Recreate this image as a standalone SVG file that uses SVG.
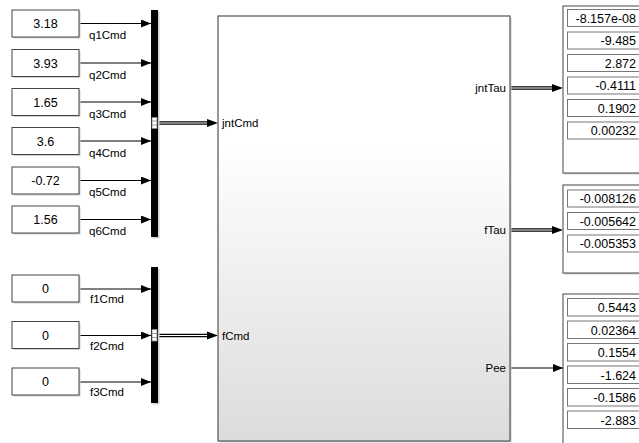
<svg xmlns="http://www.w3.org/2000/svg" width="639" height="443" viewBox="0 0 639 443">
<defs>
<linearGradient id="g" x1="0" y1="0" x2="0" y2="1">
<stop offset="0" stop-color="#ffffff"/>
<stop offset="0.3" stop-color="#ffffff"/>
<stop offset="1" stop-color="#dcdcdc"/>
</linearGradient>
<marker id="ah" markerWidth="10" markerHeight="8" refX="10" refY="4" orient="auto" markerUnits="userSpaceOnUse">
<path d="M0,0 L10,4 L0,8 Z" fill="#000"/>
</marker>
</defs>
<style>
.cb{fill:#fff;stroke:#444;stroke-width:1}
.sh{fill:#cfcfcf}
.val{font-family:"Liberation Sans",Arial,sans-serif;font-size:12.5px;fill:#000}
.lbl{font-family:"Liberation Sans",Arial,sans-serif;font-size:11.5px;fill:#000}
.ln{stroke:#000;stroke-width:1;fill:none}
.bus{stroke:#000;stroke-width:3.6;fill:none}
.busw{stroke:#fff;stroke-width:1.2;fill:none}
.bar{fill:#000}
.disp{fill:#fff;stroke:#444;stroke-width:1}
.cell{fill:#fff;stroke:#777;stroke-width:1}
</style>
<rect width="639" height="443" fill="#fff"/>

<g id="connectors">
<line class="ln" x1="79" y1="23.5" x2="151" y2="23.5" marker-end="url(#ah)"/>
<line class="ln" x1="79" y1="63" x2="151" y2="63" marker-end="url(#ah)"/>
<line class="ln" x1="79" y1="102" x2="151" y2="102" marker-end="url(#ah)"/>
<line class="ln" x1="79" y1="141" x2="151" y2="141" marker-end="url(#ah)"/>
<line class="ln" x1="79" y1="180.5" x2="151" y2="180.5" marker-end="url(#ah)"/>
<line class="ln" x1="79" y1="219.5" x2="151" y2="219.5" marker-end="url(#ah)"/>
<line class="ln" x1="79" y1="289" x2="151" y2="289" marker-end="url(#ah)"/>
<line class="ln" x1="79" y1="335.5" x2="151" y2="335.5" marker-end="url(#ah)"/>
<line class="ln" x1="79" y1="382" x2="151" y2="382" marker-end="url(#ah)"/>
<text class="lbl" x="89" y="39">q1Cmd</text>
<text class="lbl" x="89" y="78.5">q2Cmd</text>
<text class="lbl" x="89" y="117.5">q3Cmd</text>
<text class="lbl" x="89" y="156.5">q4Cmd</text>
<text class="lbl" x="89" y="196">q5Cmd</text>
<text class="lbl" x="89" y="235">q6Cmd</text>
<text class="lbl" x="90" y="303">f1Cmd</text>
<text class="lbl" x="90" y="349.5">f2Cmd</text>
<text class="lbl" x="90" y="396">f3Cmd</text>
<line class="bus" x1="158" y1="123" x2="209" y2="123"/>
<line class="busw" x1="158" y1="123" x2="209" y2="123"/>
<path d="M207,119 L218,123 L207,127 Z" fill="#000"/>
<line class="bus" x1="158" y1="335.5" x2="209" y2="335.5"/>
<line class="busw" x1="158" y1="335.5" x2="209" y2="335.5"/>
<path d="M207,331.5 L218,335.5 L207,339.5 Z" fill="#000"/>
<line class="bus" x1="510" y1="88" x2="554" y2="88"/>
<line class="busw" x1="510" y1="88" x2="554" y2="88"/>
<path d="M552,84 L563,88 L552,92 Z" fill="#000"/>
<line class="bus" x1="510" y1="230" x2="554" y2="230"/>
<line class="busw" x1="510" y1="230" x2="554" y2="230"/>
<path d="M552,226 L563,230 L552,234 Z" fill="#000"/>
<line class="ln" x1="510" y1="368" x2="563" y2="368" marker-end="url(#ah)"/>
</g>

<g id="c1"><rect class="sh" x="13.5" y="11.5" width="67" height="27"/><rect class="cb" x="12" y="10" width="67" height="27"/><text class="val" x="45.5" y="28" text-anchor="middle">3.18</text></g>
<g id="c2"><rect class="sh" x="13.5" y="51" width="67" height="27"/><rect class="cb" x="12" y="49.5" width="67" height="27"/><text class="val" x="45.5" y="67.5" text-anchor="middle">3.93</text></g>
<g id="c3"><rect class="sh" x="13.5" y="90" width="67" height="27"/><rect class="cb" x="12" y="88.5" width="67" height="27"/><text class="val" x="45.5" y="106.5" text-anchor="middle">1.65</text></g>
<g id="c4"><rect class="sh" x="13.5" y="129" width="67" height="27"/><rect class="cb" x="12" y="127.5" width="67" height="27"/><text class="val" x="45.5" y="145.5" text-anchor="middle">3.6</text></g>
<g id="c5"><rect class="sh" x="13.5" y="168.5" width="67" height="27"/><rect class="cb" x="12" y="167" width="67" height="27"/><text class="val" x="45.5" y="185" text-anchor="middle">-0.72</text></g>
<g id="c6"><rect class="sh" x="13.5" y="207.5" width="67" height="27"/><rect class="cb" x="12" y="206" width="67" height="27"/><text class="val" x="45.5" y="224" text-anchor="middle">1.56</text></g>
<g id="f1"><rect class="sh" x="13.5" y="276.5" width="67" height="27"/><rect class="cb" x="12" y="275" width="67" height="27"/><text class="val" x="45.5" y="293" text-anchor="middle">0</text></g>
<g id="f2"><rect class="sh" x="13.5" y="323" width="67" height="27"/><rect class="cb" x="12" y="321.5" width="67" height="27"/><text class="val" x="45.5" y="339.5" text-anchor="middle">0</text></g>
<g id="f3"><rect class="sh" x="13.5" y="369.5" width="67" height="27"/><rect class="cb" x="12" y="368" width="67" height="27"/><text class="val" x="45.5" y="386" text-anchor="middle">0</text></g>

<g id="mux1"><rect class="sh" x="152.5" y="11.5" width="7" height="227"/><rect class="bar" x="151" y="10" width="7" height="227"/><rect x="152" y="117.5" width="5" height="11" fill="#fff" stroke="#888" stroke-width="0.8"/><line x1="152" y1="121" x2="157" y2="121" stroke="#888" stroke-width="0.8"/><line x1="152" y1="125" x2="157" y2="125" stroke="#888" stroke-width="0.8"/></g>
<g id="mux2"><rect class="sh" x="152.5" y="268.5" width="7" height="136"/><rect class="bar" x="151" y="267" width="7" height="136"/><rect x="152" y="329.5" width="5" height="11.5" fill="#fff" stroke="#888" stroke-width="0.8"/><line x1="152" y1="333.5" x2="157" y2="333.5" stroke="#888" stroke-width="0.8"/><line x1="152" y1="337.5" x2="157" y2="337.5" stroke="#888" stroke-width="0.8"/></g>

<g id="main"><rect class="sh" x="219.5" y="17.5" width="292" height="425"/><rect x="218" y="16" width="292" height="425" fill="url(#g)" stroke="#555" stroke-width="1.2"/>
<text class="lbl" x="222" y="127">jntCmd</text>
<text class="lbl" x="222" y="339.5">fCmd</text>
<text class="lbl" x="506" y="92" text-anchor="end">jntTau</text>
<text class="lbl" x="506" y="234" text-anchor="end">fTau</text>
<text class="lbl" x="506" y="372" text-anchor="end">Pee</text>
</g>

<g id="disp1"><rect class="sh" x="564.5" y="7.5" width="80" height="167"/><rect class="disp" x="563" y="6" width="80" height="167"/>
<rect class="cell" x="567.5" y="9.5" width="72" height="17"/><text class="val" x="636" y="22.5" text-anchor="end">-8.157e-08</text>
<rect class="cell" x="567.5" y="32" width="72" height="17"/><text class="val" x="636" y="45" text-anchor="end">-9.485</text>
<rect class="cell" x="567.5" y="54.5" width="72" height="17"/><text class="val" x="636" y="67.5" text-anchor="end">2.872</text>
<rect class="cell" x="567.5" y="77" width="72" height="17"/><text class="val" x="636" y="90" text-anchor="end">-0.4111</text>
<rect class="cell" x="567.5" y="99.5" width="72" height="17"/><text class="val" x="636" y="112.5" text-anchor="end">0.1902</text>
<rect class="cell" x="567.5" y="122" width="72" height="17"/><text class="val" x="636" y="135" text-anchor="end">0.00232</text>
</g>
<g id="disp2"><rect class="sh" x="564.5" y="186.5" width="80" height="88"/><rect class="disp" x="563" y="185" width="80" height="88"/>
<rect class="cell" x="567.5" y="190" width="72" height="17"/><text class="val" x="636" y="203" text-anchor="end">-0.008126</text>
<rect class="cell" x="567.5" y="212.5" width="72" height="17"/><text class="val" x="636" y="225.5" text-anchor="end">-0.005642</text>
<rect class="cell" x="567.5" y="235" width="72" height="17"/><text class="val" x="636" y="248" text-anchor="end">-0.005353</text>
</g>
<g id="disp3"><rect class="sh" x="564.5" y="295.5" width="80" height="160"/><rect class="disp" x="563" y="294" width="80" height="160"/>
<rect class="cell" x="567.5" y="298.5" width="72" height="17.5"/><text class="val" x="636" y="312" text-anchor="end">0.5443</text>
<rect class="cell" x="567.5" y="321" width="72" height="17.5"/><text class="val" x="636" y="334.5" text-anchor="end">0.02364</text>
<rect class="cell" x="567.5" y="343.5" width="72" height="17.5"/><text class="val" x="636" y="357" text-anchor="end">0.1554</text>
<rect class="cell" x="567.5" y="366" width="72" height="17.5"/><text class="val" x="636" y="379.5" text-anchor="end">-1.624</text>
<rect class="cell" x="567.5" y="388.5" width="72" height="17.5"/><text class="val" x="636" y="402" text-anchor="end">-0.1586</text>
<rect class="cell" x="567.5" y="411" width="72" height="17.5"/><text class="val" x="636" y="424.5" text-anchor="end">-2.883</text>
</g>
</svg>
